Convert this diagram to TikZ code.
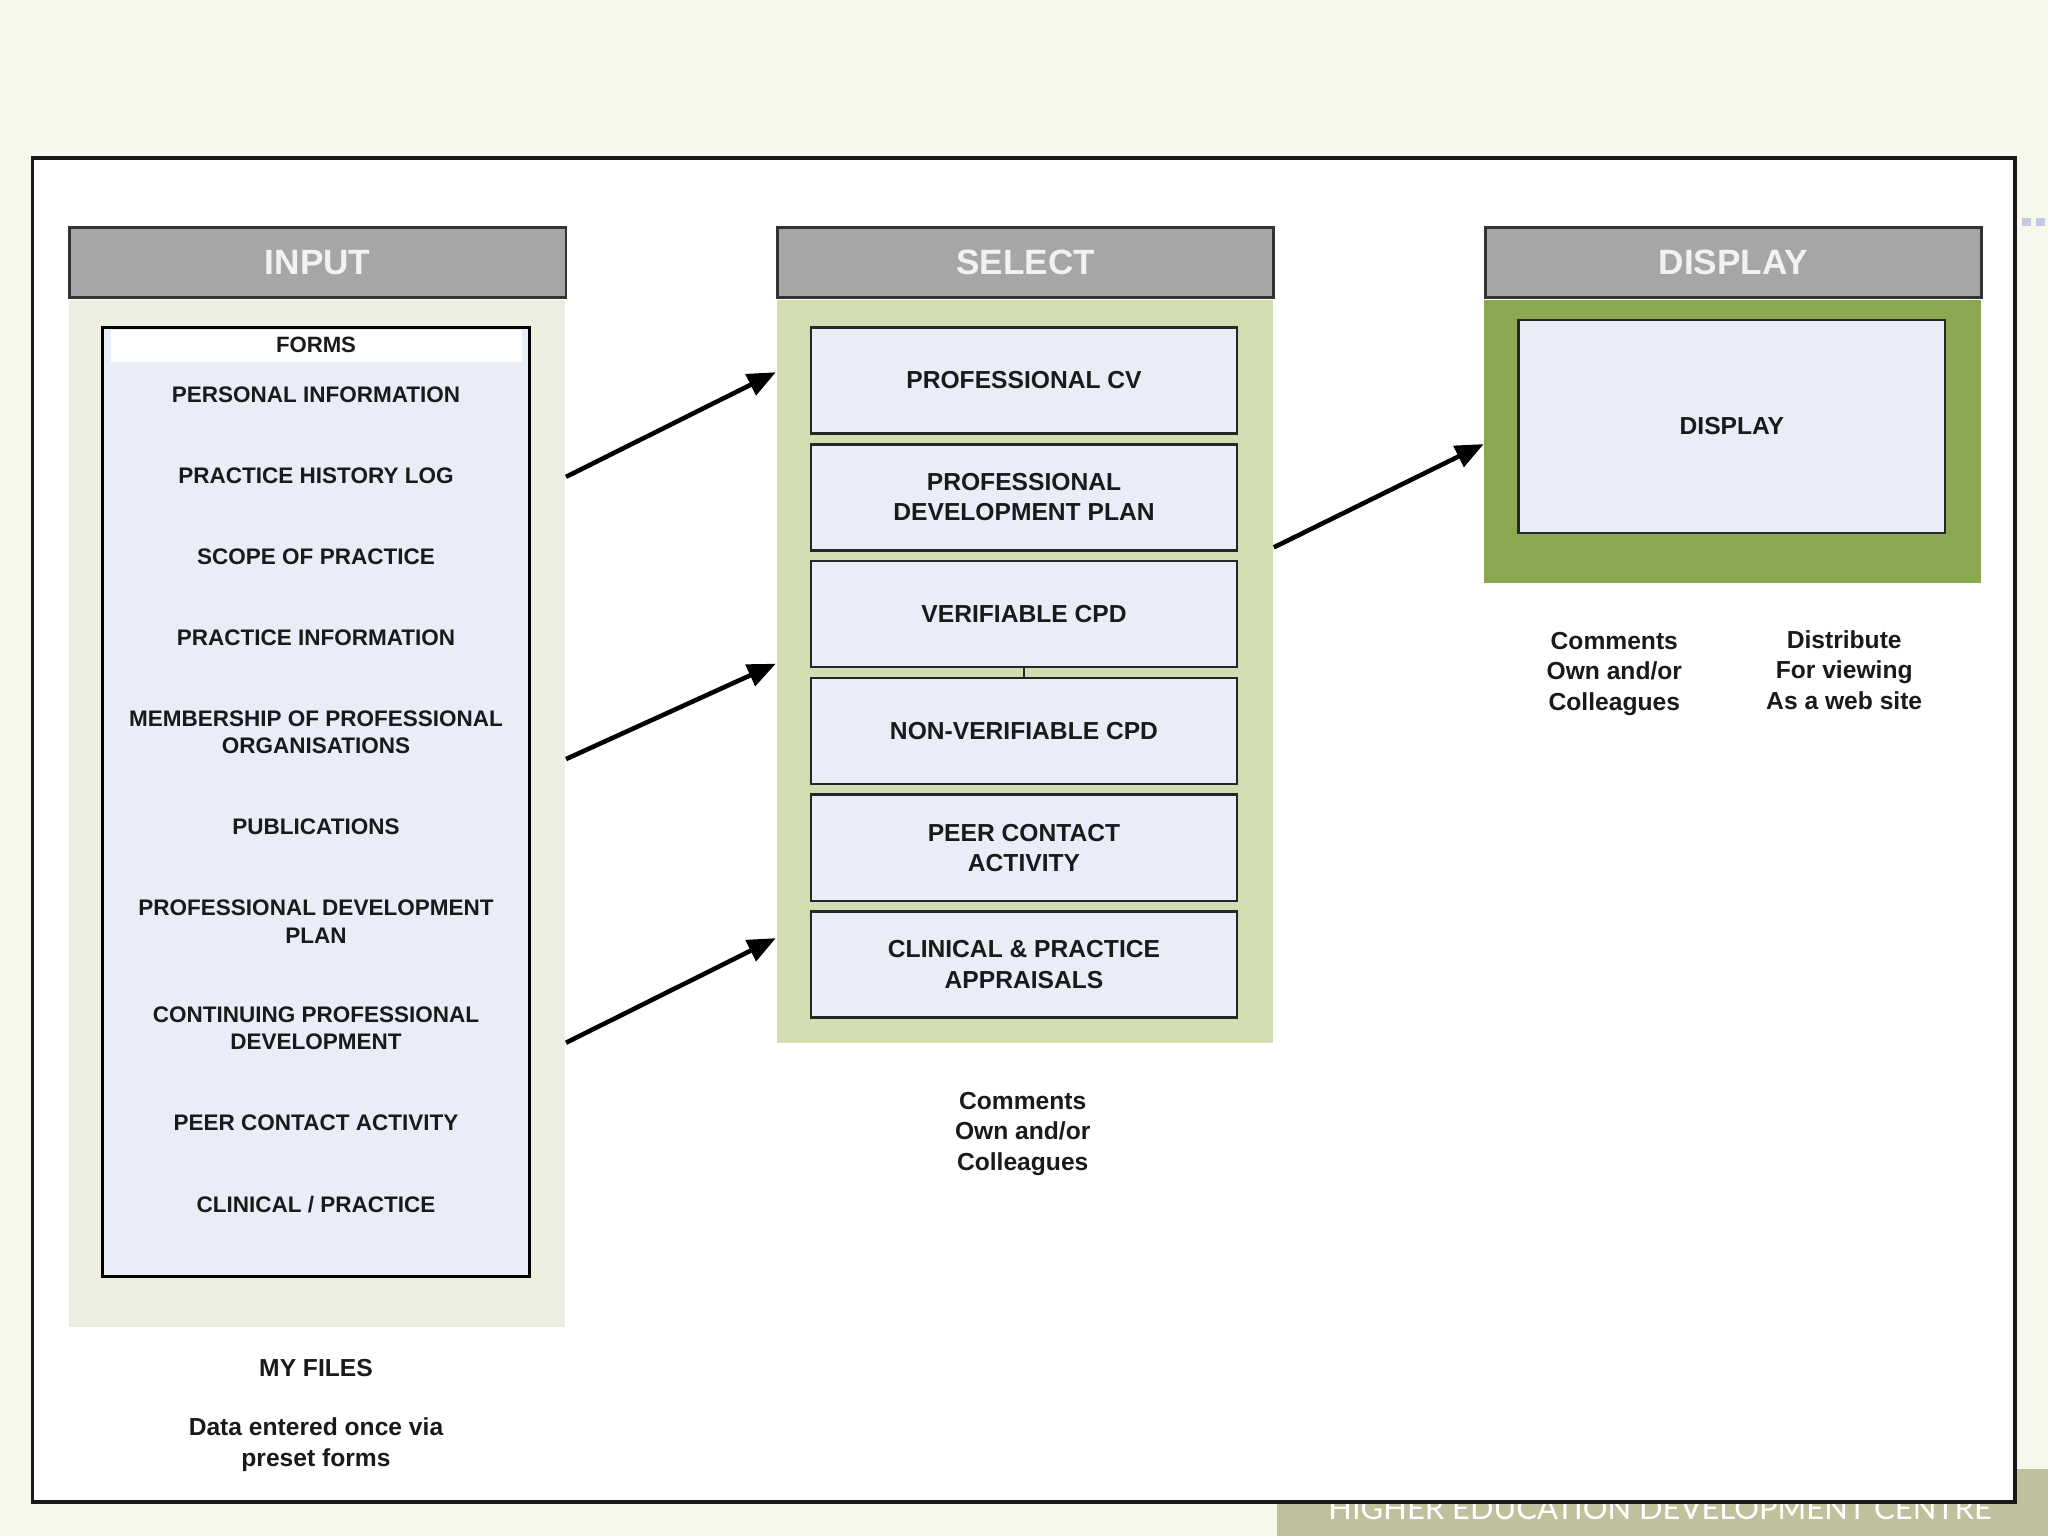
\documentclass[tikz,border=0pt]{standalone}
\usepackage{fontspec}
\setmainfont{Liberation Sans}
\newfontfamily\bannerfont{Lato}
\usetikzlibrary{arrows.meta}
\definecolor{pagebg}{HTML}{F6F8EC}
\definecolor{bannercol}{HTML}{BFC19C}
\definecolor{hdrgray}{HTML}{A6A6A6}
\definecolor{inbodycol}{HTML}{ECEEDF}
\definecolor{selbodycol}{HTML}{D2DDB1}
\definecolor{dispbodycol}{HTML}{8AA84F}
\definecolor{boxfill}{HTML}{E9EDF8}
\definecolor{txt}{HTML}{1A1A1A}
\definecolor{dotcol}{HTML}{C5C9DD}
\tikzset{
  hdr/.style={draw=black!80, fill=hdrgray, line width=0.8pt, minimum width=4.963cm,
    minimum height=0.704cm, inner sep=0pt, anchor=south west, text=white!95!black,
    font=\bfseries\fontsize{10}{12}\selectfont},
  body/.style={inner sep=0pt, minimum width=4.963cm, anchor=north west},
  selbox/.style={draw=black!85, fill=boxfill, line width=0.7pt, minimum width=4.26cm,
    minimum height=1.06cm, inner sep=0pt, align=center, text=txt,
    font=\bfseries\fontsize{7}{8.6}\selectfont},
  item/.style={align=center, text=txt, inner sep=0pt, font=\bfseries\fontsize{6.4}{7.8}\selectfont},
  note/.style={align=center, text=txt, inner sep=0pt, font=\bfseries\fontsize{7}{8.6}\selectfont},
  flow/.style={line width=1.3pt, -{Triangle[length=8pt,width=6.5pt]}}
}
\begin{document}
\begin{tikzpicture}[x=0.01cm,y=-0.01cm]
\useasboundingbox (0,0) rectangle (2048,1536);
\fill[pagebg] (0,0) rectangle (2048,1536);
% banner
\fill[bannercol] (1277,1469) rectangle (2048,1536);
\node[anchor=base, text=white, inner sep=0pt, font=\bannerfont\fontsize{8.8}{10}\selectfont] (banner) at (1660,1519) {HIGHER EDUCATION DEVELOPMENT CENTRE};
% dotted mark
\draw[dotcol, line width=2.5pt, dash pattern=on 2.5pt off 1.5pt] (2022,222) -- (2048,222);
% frame
\draw[black!90, line width=1pt, fill=white] (32.7,158) rectangle (2015,1502);

% INPUT column
\node[body, fill=inbodycol, minimum height=10.267cm] (inbody) at (68,299) {};
\node[hdr] (inhdr) at (68,299) {INPUT};
\node[draw=black, line width=0.8pt, fill=boxfill, minimum width=4.26cm, minimum height=9.48cm, inner sep=0pt] (forms) at (316,802) {};
\node[fill=white, minimum width=4.11cm, minimum height=0.31cm, inner sep=0pt] (formshdr) at (316.5,346) {};
\node[item, font=\bfseries\fontsize{6.3}{7.6}\selectfont] (fl) at (316,344.8) {FORMS};
\node[item] (i1) at (316,394.4) {PERSONAL INFORMATION};
\node[item] (i2) at (316,475.4) {PRACTICE HISTORY LOG};
\node[item] (i3) at (316,556.4) {SCOPE OF PRACTICE};
\node[item] (i4) at (316,637.4) {PRACTICE INFORMATION};
\node[item] (i5) at (316,732) {MEMBERSHIP OF PROFESSIONAL\\ORGANISATIONS};
\node[item] (i6) at (316,826.8) {PUBLICATIONS};
\node[item] (i7) at (316,921.5) {PROFESSIONAL DEVELOPMENT\\PLAN};
\node[item] (i8) at (316,1028.5) {CONTINUING PROFESSIONAL\\DEVELOPMENT};
\node[item] (i9) at (316,1123.2) {PEER CONTACT ACTIVITY};
\node[item] (i10) at (316,1204.2) {CLINICAL / PRACTICE};
\node[note] (myfiles) at (316,1368.5) {MY FILES};
\node[note] (dataonce) at (316,1444.6) {Data entered once via\\preset forms};

% SELECT column
\node[body, fill=selbodycol, minimum height=7.433cm] (selbody) at (775.8,299) {};
\node[hdr] (selhdr) at (775.8,299) {SELECT};
\node[selbox] (s1) at (1024,380.5) {PROFESSIONAL CV};
\node[selbox] (s2) at (1024,497.3) {PROFESSIONAL\\DEVELOPMENT PLAN};
\node[selbox] (s3) at (1024,614.1) {VERIFIABLE CPD};
\node[selbox] (s4) at (1024,730.9) {NON-VERIFIABLE CPD};
\node[selbox] (s5) at (1024,847.7) {PEER CONTACT\\ACTIVITY};
\node[selbox] (s6) at (1024,964.5) {CLINICAL \& PRACTICE\\APPRAISALS};
\draw[black!85, line width=0.5pt] (s3.south) -- (s4.north);
\node[note] (selnote) at (1022.7,1133.8) {Comments\\Own and/or\\Colleagues};

% DISPLAY column
\node[body, fill=dispbodycol, minimum height=2.835cm] (dispbody) at (1483.7,299) {};
\node[hdr] (disphdr) at (1483.7,299) {DISPLAY};
\node[draw=black!85, line width=0.8pt, fill=boxfill, minimum width=4.258cm, minimum height=2.13cm, inner sep=0pt, text=txt, font=\bfseries\fontsize{7}{8.6}\selectfont] (disp) at (1731.9,426.5) {DISPLAY};
\node[note] (dispnote1) at (1614.3,674) {Comments\\Own and/or\\Colleagues};
\node[note] (dispnote2) at (1844.2,670) {Distribute\\For viewing\\As a web site};

% arrows
\coordinate (a1s) at ([yshift=-1.777cm]inbody.north east);
\coordinate (a1e) at ([yshift=-0.732cm]selbody.north west);
\coordinate (a2s) at ([yshift=-4.598cm]inbody.north east);
\coordinate (a2e) at ([yshift=-3.645cm]selbody.north west);
\coordinate (a3s) at ([yshift=-7.433cm]inbody.north east);
\coordinate (a3e) at ([yshift=-6.388cm]selbody.north west);
\coordinate (a4s) at ([yshift=-2.482cm]selbody.north east);
\coordinate (a4e) at ([yshift=-1.45cm]dispbody.north west);
\draw[flow] (a1s) -- (a1e);
\draw[flow] (a2s) -- (a2e);
\draw[flow] (a3s) -- (a3e);
\draw[flow] (a4s) -- (a4e);
\end{tikzpicture}
\end{document}
